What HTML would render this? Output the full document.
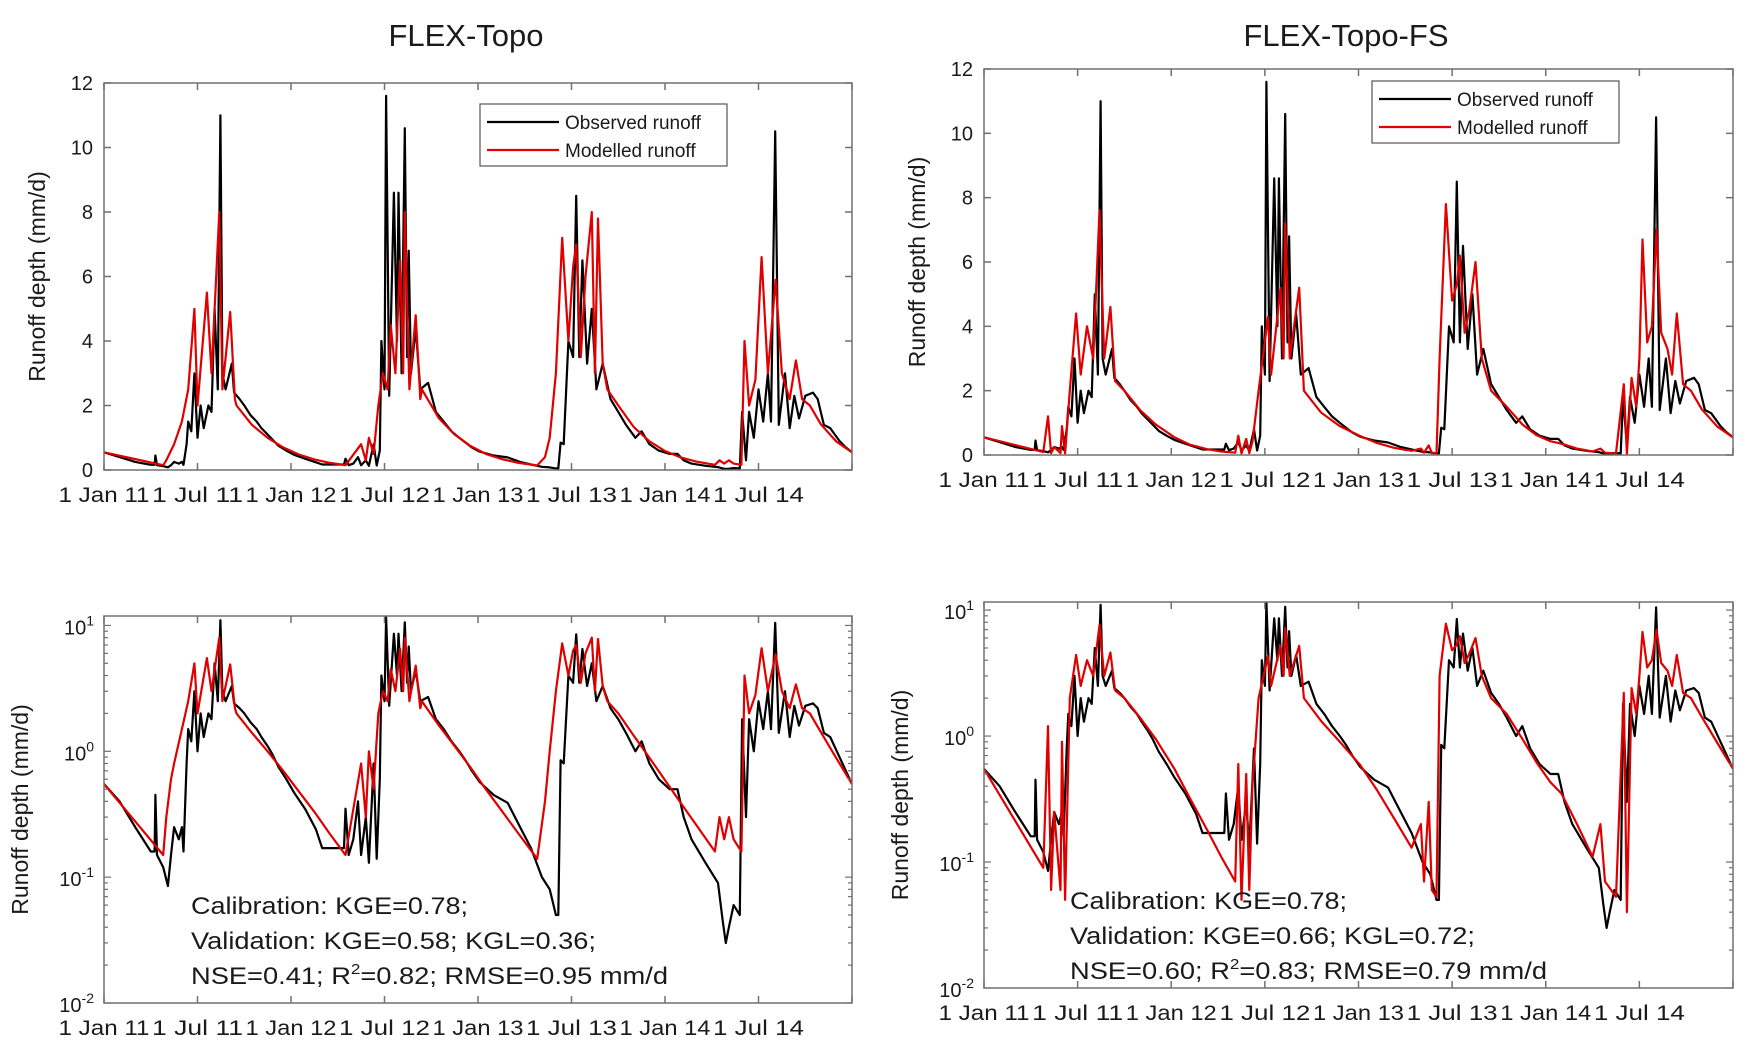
<!DOCTYPE html>
<html><head><meta charset="utf-8">
<style>
html,body{margin:0;padding:0;background:#fff;}
svg{display:block;}
text{font-family:"Liberation Sans",sans-serif;fill:#1a1a1a;}
</style></head>
<body>
<svg id="fig" width="1758" height="1051" viewBox="0 0 1758 1051" xmlns="http://www.w3.org/2000/svg">
<rect width="1758" height="1051" fill="#fff"/>
<text x="466" y="46" font-size="31" text-anchor="middle">FLEX-Topo</text>
<text x="1346" y="46" font-size="31" text-anchor="middle">FLEX-Topo-FS</text>
</svg>
<script>
// time in months since 1 Jan 2011
const obsT=[0,1,2,3,3.25,3.3,3.4,3.8,4.1,4.3,4.5,4.8,5,5.1,5.3,5.4,5.6,5.8,6,6.2,6.4,6.7,6.9,7.1,7.3,7.47,7.6,7.8,8.2,8.35,8.7,9,9.4,9.8,10.1,10.5,10.8,11.2,11.7,12.2,12.9,13.6,14,15.4,15.5,15.7,16,16.3,16.5,16.8,17,17.3,17.5,17.7,17.8,18,18.1,18.3,18.6,18.8,18.9,19.1,19.3,19.45,19.55,19.7,20,20.3,20.8,21.3,21.8,22.3,22.8,23.2,23.6,24.1,25,25.9,26.7,27.4,28.1,28.6,29,29.15,29.3,29.5,29.8,30.1,30.3,30.5,30.7,31,31.3,31.6,32,32.5,33,33.5,34.1,34.5,35,35.6,36.3,36.8,37.2,37.7,38.6,39.4,39.7,39.9,40.1,40.4,40.8,40.95,41.2,41.4,41.7,42,42.3,42.6,42.8,43.07,43.3,43.7,44,44.3,44.6,45,45.5,45.8,46.2,46.6,47.2,47.6,48];
const obsV=[0.55,0.4,0.25,0.16,0.16,0.45,0.15,0.12,0.085,0.15,0.25,0.2,0.25,0.16,0.8,1.5,1.2,3,1,2,1.3,2,1.8,5,2.5,11,3,2.5,3.3,2.4,2.2,2,1.7,1.5,1.3,1.1,0.95,0.75,0.6,0.47,0.35,0.24,0.17,0.17,0.35,0.15,0.2,0.4,0.15,0.3,0.13,0.8,0.14,0.6,4,2.5,11.6,2.3,8.6,4,8.6,3,10.6,3.5,6.8,3,4.4,2.5,2.7,1.8,1.5,1.2,1.0,0.85,0.7,0.57,0.45,0.39,0.25,0.17,0.1,0.08,0.05,0.05,0.85,0.8,4,3.5,8.5,3.5,6.5,3.3,5,2.5,3.3,2.2,1.8,1.4,1,1.2,0.8,0.6,0.5,0.5,0.3,0.2,0.13,0.09,0.045,0.03,0.04,0.06,0.05,1.8,0.3,1.8,1,2.5,1.5,3,1.5,10.5,1.4,3,1.3,2.3,1.6,2.3,2.4,2.2,1.4,1.3,0.9,0.7,0.55];
const modAT=[0,3.8,4,4.3,4.5,5,5.4,5.8,6,6.6,6.9,7.4,7.6,8.1,8.4,8.5,9.5,10.5,11.5,12.5,13.5,14.5,15.5,16.5,16.8,17,17.3,17.6,17.9,18.2,18.4,18.7,19,19.2,19.3,19.6,20,20.3,20.4,21.5,22.5,23.5,24.5,25.5,26.5,27.8,28.3,28.6,29,29.4,29.8,30.1,30.3,30.6,30.9,31.3,31.5,31.7,32,32.3,33,34,35,36,37,38,39.2,39.5,39.8,40.1,40.4,40.9,41.1,41.4,41.8,42.2,42.6,43.1,43.5,44,44.4,44.8,45.3,46,47,48];
const modAV=[0.55,0.15,0.3,0.6,0.8,1.5,2.5,5,2,5.5,3,8,2.5,4.9,2.2,2,1.4,1.0,0.7,0.48,0.33,0.22,0.15,0.8,0.3,1,0.5,2,3,2.5,4.5,3,6.5,3,8,2.5,4.8,2.2,2.5,1.6,1.1,0.75,0.5,0.34,0.23,0.14,0.4,1,3,7.2,4,6.3,7,3.5,6,8,3,7.8,3.3,2.5,2,1.33,0.89,0.59,0.39,0.26,0.16,0.3,0.2,0.3,0.2,0.16,4,2,2.8,6.6,3,5.9,3,2.2,3.4,2.2,2,1.42,0.88,0.55];
const modBT=[0,3.8,4.1,4.3,4.5,4.9,5.0,5.2,5.5,5.9,6.2,6.6,7,7.4,7.7,8.1,8.4,9,10,11,12.2,13.2,14.3,15.2,16.1,16.3,16.5,16.8,17,17.2,17.6,18.2,18.4,19,19.2,19.3,19.6,20.2,20.5,21.6,22.8,24.1,25.2,26.3,27.4,28,28.2,28.5,28.7,29,29.2,29.6,30,30.3,30.5,30.8,31.1,31.5,31.9,32.5,33.5,34.5,35.4,36.3,37,38,39,39.5,39.8,40.5,41,41.2,41.5,41.8,42,42.2,42.5,42.8,43.1,43.4,43.8,44.1,44.4,44.8,45.3,46,47,48];
const modBV=[0.55,0.09,1.2,0.06,0.25,0.06,0.9,0.05,2,4.4,2.5,4,3,7.6,3,4.6,2.3,2,1.4,0.95,0.55,0.32,0.18,0.11,0.07,0.6,0.05,0.5,0.06,0.4,2,4.3,2.5,5.2,3,7.2,3,5.2,2,1.32,0.9,0.59,0.37,0.22,0.13,0.2,0.07,0.3,0.06,0.053,3,7.8,4.8,5.3,6.2,3.8,4.5,6,3,2,1.5,0.95,0.62,0.43,0.35,0.2,0.11,0.2,0.07,0.053,2.2,0.04,2.4,1.5,3,6.7,3.5,4,7,3.8,3.3,2.5,4.4,2.2,2,1.42,0.88,0.55];
const xTickLabels=["1 Jan 11","1 Jul 11","1 Jan 12","1 Jul 12","1 Jan 13","1 Jul 13","1 Jan 14","1 Jul 14",""];
const linTicks=[0,2,4,6,8,10,12];
const logTicks=[-2,-1,0];

const NS="http://www.w3.org/2000/svg";
const svg=document.getElementById('fig');
function mk(tag,attrs,parent){const e=document.createElementNS(NS,tag);for(const k in attrs)e.setAttribute(k,attrs[k]);(parent||svg).appendChild(e);return e;}

function panel(id,L,R,T,B,isLog,logTop,series,legend,notes){
  const g=mk('g',{});
  
  
  const xs=t=>L+(R-L)*t/48;
  const ys=isLog?(v=>B-(B-T)*(Math.log10(Math.max(v,1e-3))+2)/(logTop+2)):(v=>B-(B-T)*v/12);
  const cp=mk('clipPath',{id:'cp'+id},g);
  mk('rect',{x:L,y:T,width:R-L,height:B-T},cp);
  series.forEach(s=>{
    let d='';
    for(let i=0;i<s.t.length;i++){d+=(i?'L':'M')+xs(s.t[i]).toFixed(1)+','+ys(s.v[i]).toFixed(1);}
    const p=mk('path',{d:d,fill:'none',stroke:s.c,'stroke-width':2.2,'stroke-linejoin':'round','clip-path':'url(#cp'+id+')'},g);
    
    
  });
  const box=mk('rect',{x:L,y:T,width:R-L,height:B-T,fill:'none',stroke:'#707070','stroke-width':1.5},g);
  
  
  for(let i=0;i<=8;i++){
    const x=xs(i*6);
    mk('line',{x1:x,y1:B,x2:x,y2:B-7,stroke:'#707070','stroke-width':1.5},g);
    mk('line',{x1:x,y1:T,x2:x,y2:T+7,stroke:'#707070','stroke-width':1.5},g);
    if(xTickLabels[i]){
      const tx=mk('text',{x:x,y:B+32,'font-size':21,'text-anchor':'middle',textLength:91,lengthAdjust:'spacingAndGlyphs'},g);
      tx.textContent=xTickLabels[i];
      
      
    }
  }
  if(!isLog){
    linTicks.forEach(v=>{
      const y=ys(v);
      mk('line',{x1:L,y1:y,x2:L+7,y2:y,stroke:'#707070','stroke-width':1.5},g);
      mk('line',{x1:R,y1:y,x2:R-7,y2:y,stroke:'#707070','stroke-width':1.5},g);
      const tx=mk('text',{x:L-11,y:y+7,'font-size':20,'text-anchor':'end'},g);
      tx.textContent=String(v);
      
      
    });
  } else {
    for(let e=-2;e<=1;e++){
      for(let m=1;m<10;m++){
        const v=m*Math.pow(10,e);
        if(Math.log10(v)>logTop)break;
        const y=ys(v);const len=m===1?7:4;
        mk('line',{x1:L,y1:y,x2:L+len,y2:y,stroke:'#707070','stroke-width':1.2},g);
        mk('line',{x1:R,y1:y,x2:R-len,y2:y,stroke:'#707070','stroke-width':1.2},g);
      }
    }
    logTicks.concat([1]).forEach(e=>{
      const y=ys(Math.pow(10,e));
      const tx=mk('text',{x:L-10,y:y+9,'font-size':20,'text-anchor':'end'},g);
      
      
      const a=mk('tspan',{},tx);a.textContent='10';
      const b=mk('tspan',{dy:-9,'font-size':14},tx);b.textContent=String(e);
    });
  }
  const yl=isLog?(L-76):(L-59);
  const cy=(T+B)/2;
  const yt=mk('text',{x:yl,y:cy,'font-size':23,'text-anchor':'middle',transform:'rotate(-90 '+yl+' '+cy+')'},g);
  yt.textContent='Runoff depth (mm/d)';
  
  
  if(legend){
    const lg=mk('g',{},g);
    
    
    mk('rect',{x:legend.x,y:legend.y,width:247,height:62,fill:'#fff',stroke:'#555','stroke-width':1.2},lg);
    [['Observed runoff','#000'],['Modelled runoff','#e00000']].forEach((r,i)=>{
      const y=legend.y+18+i*28;
      mk('line',{x1:legend.x+7,y1:y,x2:legend.x+79,y2:y,stroke:r[1],'stroke-width':2.2},lg);
      const t=mk('text',{x:legend.x+85,y:y+7,'font-size':19},lg);
      t.textContent=r[0];
      
      
    });
  }
  if(notes){
    const ng=mk('g',{},g);
    
    
    const t1=mk('text',{x:notes.x,y:notes.y,'font-size':24,textLength:277,lengthAdjust:'spacingAndGlyphs'},ng);
    t1.textContent='Calibration: KGE=0.78;';
    const t2=mk('text',{x:notes.x,y:notes.y+35,'font-size':24,textLength:405,lengthAdjust:'spacingAndGlyphs'},ng);
    t2.textContent=notes.l2;
    const t3=mk('text',{x:notes.x,y:notes.y+70,'font-size':24},ng);
    const a=mk('tspan',{},t3);a.textContent=notes.a;
    const s=mk('tspan',{dy:-10,'font-size':15},t3);s.textContent='2';
    const c=mk('tspan',{dy:10},t3);c.textContent=notes.c;
    t3.setAttribute('textLength',477);t3.setAttribute('lengthAdjust','spacingAndGlyphs');
  }
}
const sA=[{t:obsT,v:obsV,c:'#000',name:'observed-runoff-line'},{t:modAT,v:modAV,c:'#e00000',name:'modelled-runoff-line'}];
const sB=[{t:obsT,v:obsV,c:'#000',name:'observed-runoff-line'},{t:modBT,v:modBV,c:'#e00000',name:'modelled-runoff-line'}];
panel('tl',104,852,83,470,false,0,sA,{x:480,y:104},null);
panel('tr',984,1733,69,455,false,0,sB,{x:1372,y:81},null);
panel('bl',104,852,616,1003,true,1.075,sA,null,{x:191,y:914,l2:'Validation: KGE=0.58; KGL=0.36;',a:'NSE=0.41; R',c:'=0.82; RMSE=0.95 mm/d'});
panel('br',984,1733,602,988,true,1.064,sB,null,{x:1070,y:909,l2:'Validation: KGE=0.66; KGL=0.72;',a:'NSE=0.60; R',c:'=0.83; RMSE=0.79 mm/d'});
</script>
</body></html>
